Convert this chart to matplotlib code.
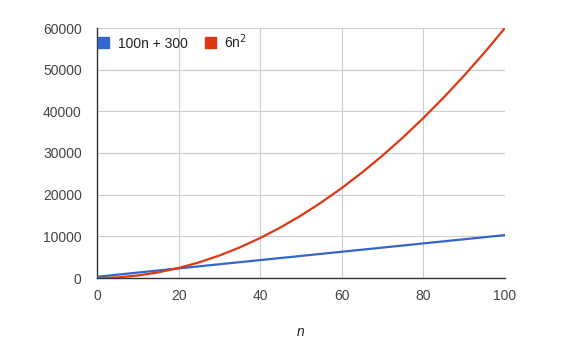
import matplotlib
matplotlib.use("Agg")
import matplotlib.pyplot as plt
from matplotlib.patches import Patch

# values
n_vals = [0, 5, 10, 15, 20, 25, 30, 35, 40, 45, 50,
          55, 60, 65, 70, 75, 80, 85, 90, 95, 100]
linear_vals = [300, 800, 1300, 1800, 2300, 2800, 3300, 3800, 4300, 4800, 5300,
               5800, 6300, 6800, 7300, 7800, 8300, 8800, 9300, 9800, 10300]
quad_vals = [0, 150, 600, 1350, 2400, 3750, 5400, 7350, 9600, 12150, 15000,
             18150, 21600, 25350, 29400, 33750, 38400, 43350, 48600, 54150, 60000]

series_labels = ["100n + 300", "6n$^2$"]
series_colors = ["#3366cc", "#dc3912"]
x_ticks = [0, 20, 40, 60, 80, 100]
y_ticks = [0, 10000, 20000, 30000, 40000, 50000, 60000]

plt.rcParams["font.family"] = ["Liberation Sans", "DejaVu Sans"]

fig = plt.figure(figsize=(5.87, 3.52), dpi=100)
ax = fig.add_axes([97 / 587, 1 - 278 / 352, 408 / 587, 250 / 352])

ax.plot(n_vals, linear_vals, color=series_colors[0], lw=1.6, zorder=3)
ax.plot(n_vals, quad_vals, color=series_colors[1], lw=1.6, zorder=3)

ax.set_xlim(0, 100)
ax.set_ylim(0, 60000)
ax.set_xticks(x_ticks)
ax.set_yticks(y_ticks)
ax.grid(True, color="#cccccc", lw=0.8)
ax.set_axisbelow(True)

for side in ["top", "right"]:
    ax.spines[side].set_visible(False)
for side in ["left", "bottom"]:
    ax.spines[side].set_color("#333333")
    ax.spines[side].set_linewidth(1.0)

ax.tick_params(length=0, labelsize=10, labelcolor="#444444", pad=8)
ax.tick_params(axis="y", pad=11)

ax.set_xlabel("n", style="italic", fontsize=10, color="#222222", labelpad=16)

handles = [Patch(facecolor=c, edgecolor=c) for c in series_colors]
ax.legend(handles, series_labels, loc="upper left", bbox_to_anchor=(-0.028, 1.034),
          ncol=2, frameon=False, fontsize=10, handlelength=0.8, handleheight=0.8,
          handletextpad=0.6, columnspacing=1.25, labelcolor="#222222")

fig.savefig("out.png", dpi=100)
